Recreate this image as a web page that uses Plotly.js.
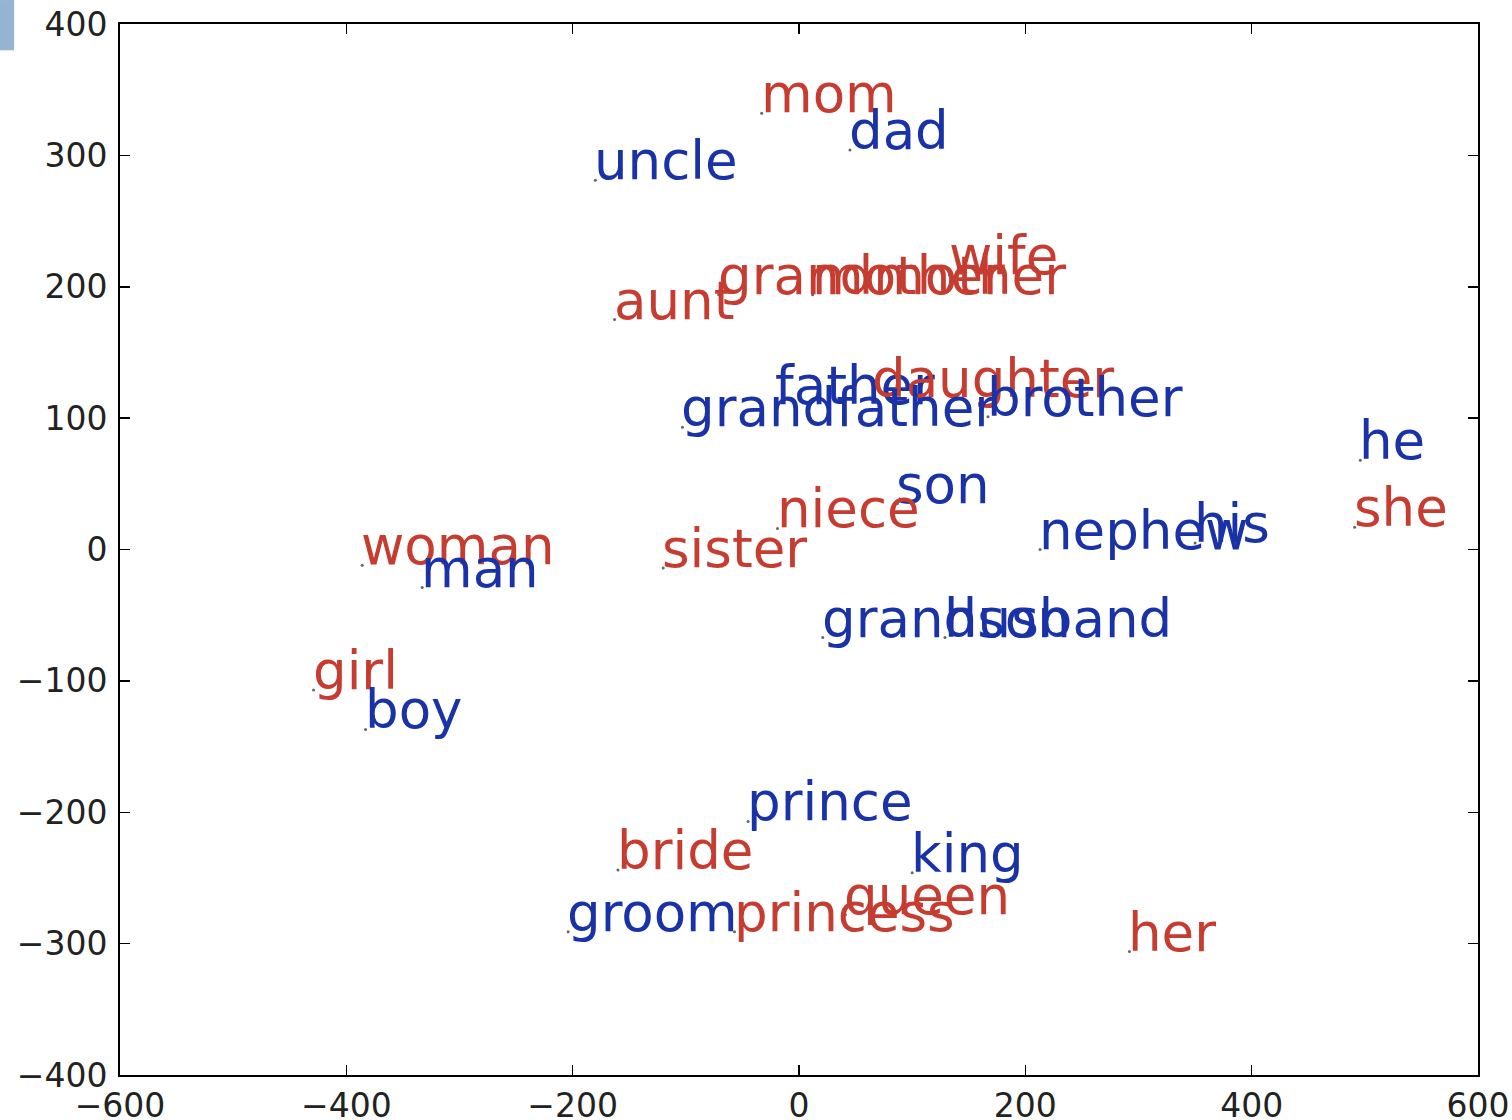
<!DOCTYPE html>
<html>
<head>
<meta charset="utf-8">
<script src="https://cdn.plot.ly/plotly-3.0.1.min.js"></script>
<style>html,body{margin:0;padding:0;background:#fff;}#chart{width:1512px;height:1120px;}</style>
</head>
<body>
<div id="chart"></div>
<script>
// word embedding 2-D positions (anchor = baseline-left of each label)
const words = ["mom","dad","uncle","grandmother","mother","wife","aunt","father","daughter","grandfather","brother","he","she","son","niece","nephew","his","woman","man","sister","grandson","husband","girl","boy","prince","bride","king","queen","groom","princess","her"];
const xVals = [-33,45,-180,-71,12,133,-163,-20,65,-103,167,496,491,87,-19,213,350,-386,-333,-120,21,129,-429,-383,-45,-160,100,41,-204,-57,292];
const yVals = [332,304,281,194,194,209,175,110,115,93,101,68,17,35,16,0,5,-12,-29,-14,-67,-67,-107,-137,-207,-244,-246,-278,-291,-291,-306];
const gender = ["f","m","m","f","f","f","f","m","f","m","m","m","f","m","f","m","m","f","m","f","m","m","f","m","m","f","m","f","m","f","f"];
const xTicks = [-600,-400,-200,0,200,400,600];
const yTicks = [-400,-300,-200,-100,0,100,200,300,400];

const RED = "rgb(198,60,48)";
const BLUE = "rgb(26,50,168)";
const FONT = "DejaVu Sans";

const trace = {
  x: xVals, y: yVals, mode: "markers", type: "scatter",
  marker: {size: 3, color: "#666"}, hoverinfo: "text", text: words, showlegend: false
};

const annotations = words.map((w, i) => ({
  x: xVals[i], y: yVals[i], xref: "x", yref: "y", text: w, showarrow: false,
  xanchor: "left", yanchor: "bottom", xshift: -3, yshift: -13,
  font: {family: FONT, size: 53, color: gender[i] === "f" ? RED : BLUE}
}));

const axisCommon = {
  showgrid: false, zeroline: false, showline: true, linecolor: "#000", linewidth: 2,
  mirror: "ticks", ticks: "inside", ticklen: 10, tickwidth: 1.5, tickcolor: "#000",
  tickfont: {family: FONT, size: 33, color: "#222"}, tickmode: "array", fixedrange: true
};

const layout = {
  width: 1512, height: 1120,
  margin: {l: 120, r: 34, t: 24, b: 45, pad: 0},
  paper_bgcolor: "#fff", plot_bgcolor: "#fff",
  xaxis: Object.assign({}, axisCommon, {range: [-600, 600], tickvals: xTicks, ticktext: xTicks.map(v => v < 0 ? "\u2212" + Math.abs(v) : String(v)), ticklabelstandoff: 0}),
  yaxis: Object.assign({}, axisCommon, {range: [-400, 400], tickvals: yTicks, ticktext: yTicks.map(v => v < 0 ? "\u2212" + Math.abs(v) : String(v)), ticklabelstandoff: 4}),
  annotations: annotations,
  shapes: [{type: "rect", xref: "paper", yref: "paper", x0: -0.0884, x1: -0.078, y0: 0.975, y1: 1.0228, fillcolor: "#93b4d3", line: {width: 0}}]
};

Plotly.newPlot("chart", [trace], layout, {displayModeBar: false, staticPlot: true});
</script>
</body>
</html>
